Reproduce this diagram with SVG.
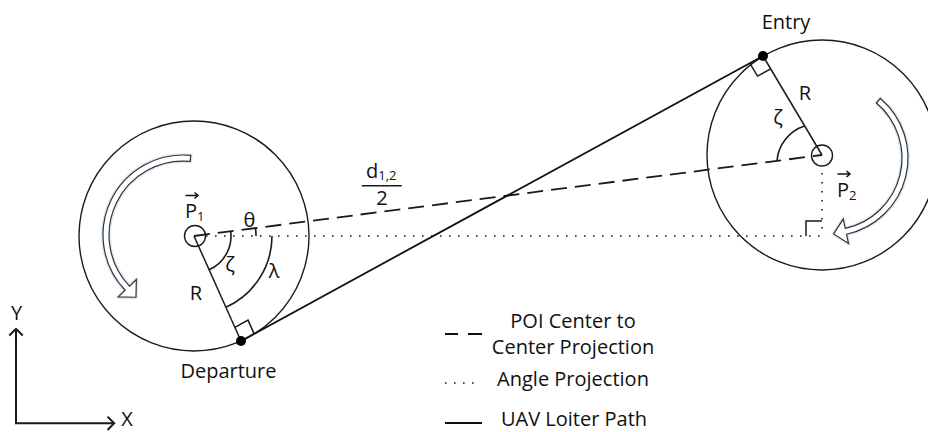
<svg xmlns="http://www.w3.org/2000/svg" width="928" height="432" viewBox="0 0 928 432">
<style>
  .ln{fill:none;stroke:#1a1a1a;stroke-width:1.5}
  .circ{fill:none;stroke:#1a1a1a;stroke-width:1.4}
  .path{fill:none;stroke:#111;stroke-width:1.8}
  .dash{fill:none;stroke:#1a1a1a;stroke-width:1.8;stroke-dasharray:16 8}
  .dot{fill:none;stroke:#1a1a1a;stroke-width:1.6;stroke-dasharray:1.6 7.4}
  .arc{fill:none;stroke:#1a1a1a;stroke-width:1.6}
  .t{font-family:"Open Sans","Noto Sans","Liberation Sans",sans-serif;font-size:20px;fill:#111}
  .sub{font-size:13px}
  .vec{fill:none;stroke:#111;stroke-width:1.5}
  .rot{fill:#fff;stroke:#333;stroke-width:1.2;stroke-linejoin:miter}
  .glow{fill:none;stroke:#cfe0f2;stroke-width:4;stroke-opacity:0.7;stroke-linejoin:round}
  .ax{fill:none;stroke:#1a1a1a;stroke-width:2}
</style>

<g id="poi1">
  <circle class="circ" cx="194" cy="236" r="115"/>
  <circle class="circ" cx="195" cy="236" r="10.5" stroke-width="1.8"/>
  <path class="glow" d="M 190.8 155.4 A 80 80 0 0 0 125.16 290.27 L 118.29 296.84 L 135.97 297.24 L 136.37 279.56 L 129.50 286.13 A 74 74 0 0 1 190.2 161.4 Z"/>
  <path class="rot" d="M 190.8 155.4 A 80 80 0 0 0 125.16 290.27 L 118.29 296.84 L 135.97 297.24 L 136.37 279.56 L 129.50 286.13 A 74 74 0 0 1 190.2 161.4 Z"/>
  <path class="vec" d="M 185.5 195.5 H 198 M 194.5 192.5 L 198 195.5 L 194.5 198.5"/>
  <text class="t" x="185" y="217.5" font-size="18">P<tspan class="sub" dy="3">1</tspan></text>
</g>

<g id="poi2">
  <circle class="circ" cx="822" cy="155" r="115"/>
  <circle class="circ" cx="822" cy="155.5" r="10.5" stroke-width="1.8"/>
  <path class="glow" d="M 880.35 98.42 A 78 78 0 0 1 846.48 234.24 L 848.49 243.52 L 833.63 233.94 L 843.21 219.08 L 845.21 228.37 A 72 72 0 0 0 876.48 103.01 Z"/>
  <path class="rot" d="M 880.35 98.42 A 78 78 0 0 1 846.48 234.24 L 848.49 243.52 L 833.63 233.94 L 843.21 219.08 L 845.21 228.37 A 72 72 0 0 0 876.48 103.01 Z"/>
  <path class="vec" d="M 837.5 174 H 850 M 846.5 171 L 850 174 L 846.5 177"/>
  <text class="t" x="837" y="197" font-size="18">P<tspan class="sub" dy="3">2</tspan></text>
</g>

<g id="connectors">
  <line class="dot" x1="206" y1="236" x2="822" y2="236"/>
  <line class="dot" x1="822" y1="173" x2="822" y2="236"/>
  <path class="ln" d="M 806 236 V 221 H 822" stroke-width="1.3"/>
  <line class="dash" x1="194" y1="236" x2="822" y2="155"/>
  <line class="path" x1="241" y1="341" x2="763" y2="56"/>
  <line class="ln" x1="194" y1="236" x2="241" y2="341"/>
  <line class="ln" x1="822" y1="155" x2="763" y2="56"/>
  <polyline class="ln" points="234.87,327.31 248.04,320.12 254.17,333.82" stroke-width="1.3"/>
  <polyline class="ln" points="770.7,68.9 757.5,76.1 749.8,63.2" stroke-width="1.3"/>
  <path class="arc" d="M 230.7 231.3 A 37 37 0 0 1 209.1 269.8"/>
  <path class="arc" d="M 272 236 A 78 78 0 0 1 225.8 307.2"/>
  <path class="arc" d="M 255.5 228.1 A 62 62 0 0 1 256 236"/>
  <path class="arc" d="M 777 160.8 A 40 40 0 0 1 804.5 126"/>
</g>

<g id="departure">
  <circle cx="241" cy="341" r="5" fill="#000"/>
  <text class="t" x="228.5" y="378" text-anchor="middle">Departure</text>
</g>

<g id="entry">
  <circle cx="763" cy="56" r="5" fill="#000"/>
  <text class="t" x="786" y="29" text-anchor="middle">Entry</text>
</g>

<g id="labels">
  <text class="t" x="196" y="300" text-anchor="middle">R</text>
  <text class="t" x="805" y="100" text-anchor="middle">R</text>
  <text class="t" x="230" y="271" text-anchor="middle">ζ</text>
  <text class="t" x="778" y="124" text-anchor="middle">ζ</text>
  <text class="t" x="274" y="278" text-anchor="middle">λ</text>
  <text class="t" x="249.5" y="226.5" text-anchor="middle">θ</text>
  <text class="t" x="366" y="178" font-size="19">d<tspan class="sub" dy="2">1,2</tspan></text>
  <line x1="361.7" y1="185.7" x2="401.7" y2="185.7" stroke="#1a1a1a" stroke-width="1.6"/>
  <text class="t" x="382" y="205" text-anchor="middle" font-size="19">2</text>
</g>

<g id="legend">
  <path class="path" d="M 445 334 h 13 M 468 334 h 14"/>
  <line class="dot" x1="445" y1="383" x2="478" y2="383" stroke-dasharray="1.6 8.4"/>
  <line class="path" x1="445" y1="423" x2="482" y2="423"/>
  <text class="t" x="573" y="328" text-anchor="middle">POI Center to</text>
  <text class="t" x="573" y="354" text-anchor="middle">Center Projection</text>
  <text class="t" x="573" y="386" text-anchor="middle">Angle Projection</text>
  <text class="t" x="574" y="426" text-anchor="middle">UAV Loiter Path</text>
</g>

<g id="axes">
  <path class="ax" d="M 16 329 V 423.3 H 114"/>
  <path class="ax" d="M 9.3 335.5 L 16 328.8 L 22.7 335.5"/>
  <path class="ax" d="M 107.5 416.6 L 114.2 423.3 L 107.5 430"/>
  <text class="t" x="16.5" y="320" text-anchor="middle">Y</text>
  <text class="t" x="127" y="426" text-anchor="middle">X</text>
</g>
</svg>
